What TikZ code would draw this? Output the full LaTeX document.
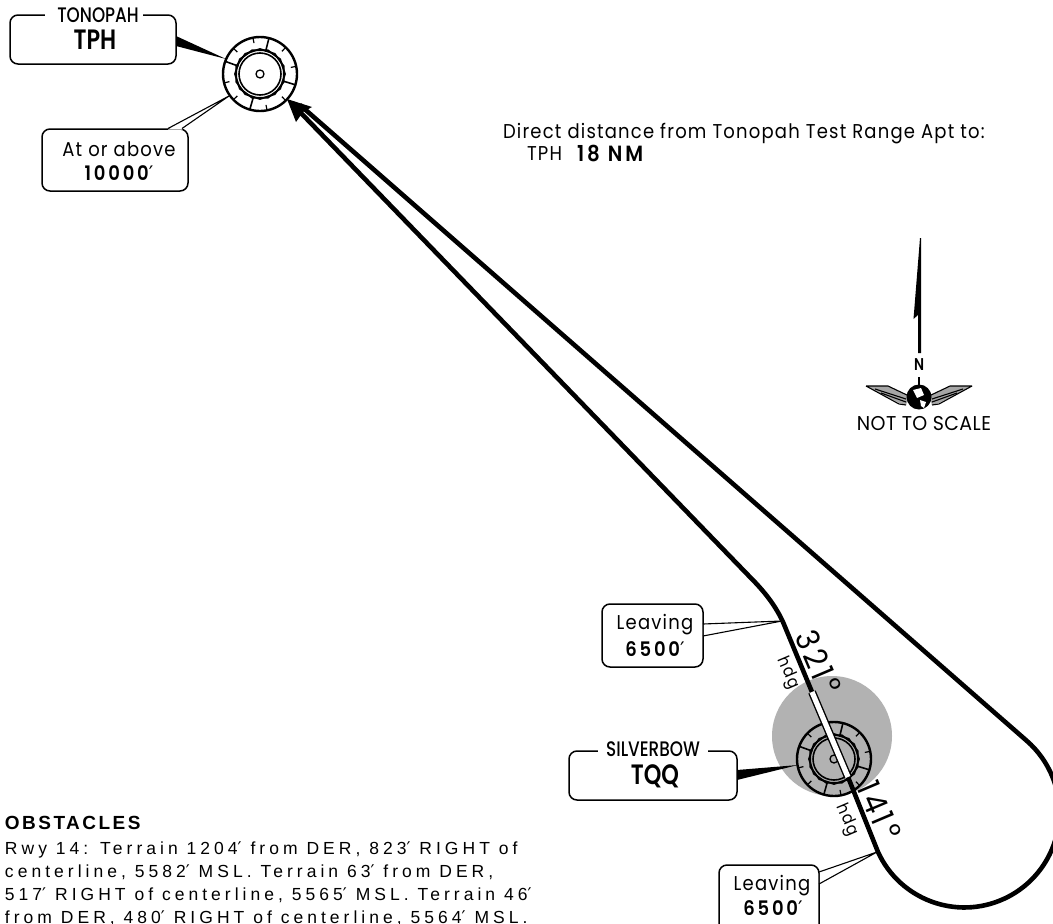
\documentclass[tikz,border=0pt]{standalone}
\usepackage{fontspec}
\setmainfont{Poppins}
\newfontfamily\geo[LetterSpace=6,FakeStretch=0.9]{Poppins}
\newfontfamily\geob[LetterSpace=14,FakeStretch=0.9]{Poppins SemiBold}
\newfontfamily\plain[FakeStretch=0.95,LetterSpace=2]{Poppins}
\newfontfamily\narrow[FakeStretch=0.8]{Poppins Medium}
\newfontfamily\narrowb[FakeStretch=0.8]{Poppins SemiBold}
\newfontfamily\crsf[FakeStretch=0.9,LetterSpace=10]{Poppins}
\newfontfamily\helv[LetterSpace=23]{Liberation Sans}
\newfontfamily\helvb[LetterSpace=13]{Liberation Sans Bold}
\newfontfamily\symb{DejaVu Sans}
\newcommand{\prm}{{\symb\char"2032}}
\newcommand{\navaid}[3]{%
  \begin{scope}[shift={(#2,#3)}]
    \node[circle,draw,line width=2.4pt,minimum size=74pt,inner sep=0pt] (#1) at (0,0) {};
    \draw[line width=1.6pt] (0,0) circle (21);
    \node[circle,draw,line width=1.3pt,minimum size=8pt,inner sep=0pt] (#1c) at (0,0) {};
    \foreach \o in {0,18}{
      \draw[line width=1.8pt,line join=round] (\o:25) \foreach \k in {1,...,9}{ -- ({\o+36*\k}:25)} -- cycle;}
    \foreach \a in {76,160,254,343}{\draw[line width=1.6pt] (-\a:23) -- (-\a:37);}
    \foreach \a in {101,46,12,-46,-79,-136,-166,136}{\draw[line width=1.2pt] (-\a:37) -- (-\a:31.5);}
  \end{scope}}
\tikzset{
  callout/.style={draw,line width=1.5pt,rounded corners=8pt,fill=white},
  route/.style={line width=4.6pt,line join=round},
  lbl/.style={inner sep=0pt,outer sep=0pt},
  base/.style={inner sep=0pt,outer sep=0pt,anchor=base west},
  hdgl/.style={inner sep=0pt,font=\fontsize{17}{17}\geo,rotate=-67},
  crs/.style={inner sep=0pt,font=\fontsize{32}{32}\crsf,rotate=-67},
  degl/.style={inner sep=0pt,font=\fontsize{30}{30}\selectfont,rotate=-67},
}
\begin{document}
\begin{tikzpicture}[x=1pt,y=-1pt]
\useasboundingbox (0,0) rectangle (1053,924);
\clip (0,0) rectangle (1053,924);
\fill[white] (0,0) rectangle (1053,924);

% route coordinates
\coordinate (bend1) at (748,575);
\coordinate (bend2) at (783,622);
\coordinate (rwA) at (812,692);
\coordinate (rwB) at (848,777);
\coordinate (turn) at (878,852);
\coordinate (innerTip) at (300,112);
\coordinate (outerTip) at (300,105);

% grey protected area
\fill[black!30] (832,736) circle (60);
\navaid{TPHfix}{260}{74}
\navaid{TQQfix}{834}{759}

% route
\draw[route] (innerTip) -- (bend1) .. controls (765,592) and (775,605) .. (bend2) -- (rwA);
\draw[route] (rwB) -- (turn) arc[start angle=155.4,end angle=-49,radius=95] -- (outerTip);
\draw[line width=8pt] (rwA) -- (rwB);
\draw[line width=5.2pt,white] (rwA) -- (rwB);
\coordinate (atip) at (287,99);
\coordinate (ab1) at (312,107);
\coordinate (an) at (303,112);
\coordinate (ab2) at (296,122);
\fill (atip) -- (ab1) -- (an) -- (ab2) -- cycle;

% TPH box
\draw[callout] (10,15) rectangle (176,64);
\fill[white] (45,10) rectangle (143,20);
\coordinate (w1t) at (226,59);
\fill (176,36) -- (w1t) -- (176,46) -- cycle;
\node[lbl,font=\fontsize{21}{21}\narrow] (tonopah) at (98,15) {TONOPAH};
\node[lbl,font=\fontsize{28}{28}\narrowb] (tph) at (95,40) {TPH};

% At or above
\draw[callout] (42,129) rectangle (188,191);
\coordinate (w2t) at (229,96);
\fill[white] (w2t) -- (168,129.5) -- (182,129.5) -- cycle;
\draw[line width=1.1pt] (168,128.5) -- (w2t) -- (182,128.5);
\node[lbl,font=\fontsize{20}{20}\geo] (atabove) at (119,149) {At or above};
\node[lbl,font=\fontsize{20}{20}\geob] (alt1) at (119,173) {10000\prm};

% TQQ box
\draw[callout] (569,751) rectangle (737,800);
\fill[white] (598,746) rectangle (708,756);
\coordinate (w3t) at (798,765);
\fill (737,770) -- (w3t) -- (737,780) -- cycle;
\node[lbl,font=\fontsize{21}{21}\narrow] (silver) at (653,749) {SILVERBOW};
\node[lbl,font=\fontsize{28}{28}\narrowb] (tqq) at (655,776) {TQQ};

% Leaving upper
\draw[callout] (602,604) rectangle (703,667);
\coordinate (w4t) at (782,621);
\fill[white] (w4t) -- (703.8,624) -- (703.8,636) -- cycle;
\draw[line width=1.1pt] (703,624) -- (w4t) -- (703,636);
\node[lbl,font=\fontsize{20}{20}\geo] (leav1) at (655,625) {Leaving};
\node[lbl,font=\fontsize{20}{20}\geob] (alt2) at (655,649) {6500\prm};

% Leaving lower
\draw[callout] (719,865) rectangle (819,935);
\coordinate (w5t) at (877,852);
\fill[white] (w5t) -- (819.8,872) -- (819.8,884) -- cycle;
\draw[line width=1.1pt] (819,872) -- (w5t) -- (819,884);
\node[lbl,font=\fontsize{20}{20}\geo] (leav2) at (772,886) {Leaving};
\node[lbl,font=\fontsize{20}{20}\geob] (alt3) at (773,908) {6500\prm};

% headings
\node[crs] (c321) at (815,655) {321};
\node[degl] (deg1) at (831,686) {°};
\node[hdgl] (h1) at (788,673) {hdg};
\node[crs] (c141) at (876,803) {141};
\node[degl] (deg2) at (891,832) {°};
\node[hdgl] (h2) at (847,820) {hdg};

% distance
\node[base,font=\fontsize{20}{20}\geo] (dist) at (503,138) {Direct distance from Tonopah Test Range Apt to:};
\node[base,font=\fontsize{20}{20}\geo] (dtph) at (527,160) {TPH};
\node[base,font=\fontsize{22}{22}\geob] (dnm) at (577,161) {18 NM};

% north
\fill (920,238) -- (913.5,319) -- (918,315) -- (918,353) -- (921,353) -- (921,238) -- cycle;
\node[lbl,font=\fontsize{17}{17}\narrowb] (north) at (919,365) {N};
\coordinate (nl) at (919,377);
\coordinate (ng) at (919,390);
\draw[line width=2pt] (nl) -- (ng);
\foreach \s/\c in {1/919,-1/919}{
  \begin{scope}[shift={(919,0)},xscale=\s]
  \fill[black!35] (-53,386) -- (-31,386) -- (-10,396) -- (-13,405) -- (-20,403) -- cycle;
  \draw[line width=1.1pt,line join=round] (-53,386) -- (-31,386) -- (-10,396) (-53,386) -- (-20,404) -- (-13,405);
  \draw[line width=1.1pt] (-44,389) -- (-13,399);
  \draw[line width=1.1pt] (-38,393) -- (-13,402);
  \end{scope}}
\node[circle,fill=black,minimum size=25pt,inner sep=0pt] (globe) at (919,397) {};
\fill[white] (913,390) -- (921,388) -- (924,395) -- (917,398) -- cycle;
\fill[white] (920,400) -- (926,402) -- (924,408) -- (921,406) -- cycle;
\node[lbl,font=\fontsize{20}{20}\plain] (nts) at (924,424) {NOT TO SCALE};

% obstacles
\node[base,font=\fontsize{19}{19}\helvb] (obs) at (5,829) {OBSTACLES};
\node[base,font=\fontsize{17.5}{18}\helv] (o1) at (5,854) {Rwy 14: Terrain 1204\prm{} from DER, 823\prm{} RIGHT of};
\node[base,font=\fontsize{17.5}{18}\helv] (o2) at (5,877) {centerline, 5582\prm{} MSL. Terrain 63\prm{} from DER,};
\node[base,font=\fontsize{17.5}{18}\helv] (o3) at (5,900) {517\prm{} RIGHT of centerline, 5565\prm{} MSL. Terrain 46\prm};
\node[base,font=\fontsize{17.5}{18}\helv] (o4) at (5,923) {from DER, 480\prm{} RIGHT of centerline, 5564\prm{} MSL.};
\end{tikzpicture}
\end{document}
